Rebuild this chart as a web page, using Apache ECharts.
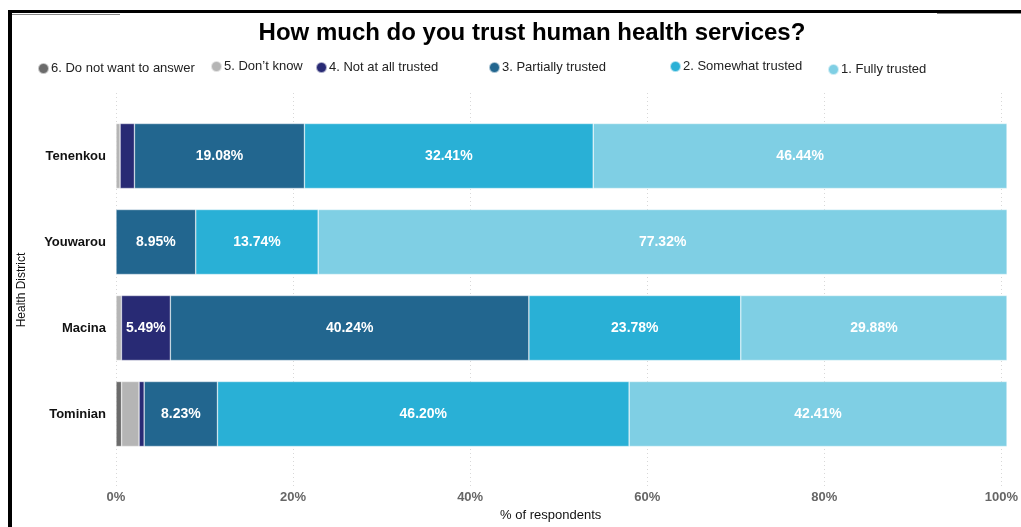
<!DOCTYPE html>
<html>
<head>
<meta charset="utf-8">
<script src="https://cdn.jsdelivr.net/npm/echarts@6/dist/echarts.min.js"></script>
<style>
  html, body { margin: 0; padding: 0; background: #fff; }
  #chart { width: 1021px; height: 527px; }
</style>
</head>
<body>
<div id="chart"></div>
<script>
// Health districts (top to bottom)
const districts = ['Tenenkou', 'Youwarou', 'Macina', 'Tominian'];

// Share of respondents per answer, % (same order as districts)
const noAnswer       = [0.00, 0.00, 0.00, 0.63];
const dontKnow       = [0.46, 0.00, 0.61, 1.96];
const notAtAll       = [1.61, 0.00, 5.49, 0.57];
const partially      = [19.08, 8.95, 40.24, 8.23];
const somewhat       = [32.41, 13.74, 23.78, 46.20];
const fully          = [46.44, 77.32, 29.88, 42.41];

const xTicks = ['0%', '20%', '40%', '60%', '80%', '100%'];

const answers = [
  { name: '6. Do not want to answer', data: noAnswer,  color: '#6b6b6b', legendLeft: 32,  legendTop: 57 },
  { name: '5. Don\u2019t know',       data: dontKnow,  color: '#b5b5b5', legendLeft: 205, legendTop: 55 },
  { name: '4. Not at all trusted',    data: notAtAll,  color: '#282a74', legendLeft: 310, legendTop: 56 },
  { name: '3. Partially trusted',     data: partially, color: '#22668f', legendLeft: 483, legendTop: 56 },
  { name: '2. Somewhat trusted',      data: somewhat,  color: '#29b0d6', legendLeft: 664, legendTop: 55 },
  { name: '1. Fully trusted',         data: fully,     color: '#7fcfe4', legendLeft: 822, legendTop: 58 }
];

const font = '"Liberation Sans", Arial, sans-serif';
const narrow = '"Liberation Sans Narrow", "Liberation Sans", Arial, sans-serif';

const chart = echarts.init(document.getElementById('chart'), null, { renderer: 'canvas' });

const option = {
  backgroundColor: '#ffffff',
  animation: false,
  title: {
    text: 'How much do you trust human health services?',
    left: 527,
    top: 16,
    textAlign: 'center',
    textStyle: { fontFamily: font, fontSize: 24, fontWeight: 'bold', color: '#000' }
  },
  legend: answers.map(a => ({
    data: [a.name],
    left: a.legendLeft,
    top: a.legendTop,
    icon: 'circle',
    itemWidth: 11,
    itemHeight: 11,
    selectedMode: false,
    textStyle: { fontFamily: font, fontSize: 13, color: '#222', padding: [0, 0, 0, -3] }
  })),
  grid: [
    { left: 116, right: 14, top: 113, height: 344 },
    { left: 116, right: 14, top: 93, bottom: 39 }
  ],
  xAxis: [
    {
      gridIndex: 0, type: 'value', min: 0, max: 100, interval: 20,
      axisLine: { show: false }, axisTick: { show: false },
      axisLabel: { show: false }, splitLine: { show: false }
    },
    {
      gridIndex: 1, type: 'value', min: 0, max: 100, interval: 20,
      axisLine: { show: false }, axisTick: { show: false },
      axisLabel: {
        margin: 4,
        formatter: v => xTicks[Math.round(v / 20)],
        fontFamily: narrow, fontSize: 13, fontWeight: 'bold', color: '#666'
      },
      splitLine: { show: true, lineStyle: { type: [1, 3], color: '#d8d8d8', width: 1 } },
      name: '% of respondents',
      nameLocation: 'middle',
      nameGap: 22,
      nameTextStyle: { fontFamily: narrow, fontSize: 13, color: '#111', padding: [0, 16, 0, 0] }
    }
  ],
  yAxis: [
    {
      gridIndex: 0, type: 'category', data: districts, inverse: true,
      axisLine: { show: false }, axisTick: { show: false },
      axisLabel: { margin: 10, fontFamily: font, fontSize: 13, fontWeight: 'bold', color: '#111' }
    },
    {
      gridIndex: 1, type: 'value', min: 0, max: 1,
      axisLine: { show: false }, axisTick: { show: false },
      axisLabel: { show: false }, splitLine: { show: false },
      name: 'Health District',
      nameLocation: 'middle',
      nameRotate: 90,
      nameGap: 88,
      nameTextStyle: { fontFamily: font, fontSize: 12, color: '#111' }
    }
  ],
  series: answers.map(a => ({
    name: a.name,
    type: 'bar',
    stack: 'total',
    xAxisIndex: 0,
    yAxisIndex: 0,
    barWidth: 65,
    data: a.data,
    itemStyle: { color: a.color, borderColor: 'rgba(255,255,255,0.6)', borderWidth: 0.6 },
    label: {
      show: true,
      position: 'inside',
      formatter: p => (p.value >= 5 ? p.value.toFixed(2) + '%' : ''),
      fontFamily: font,
      fontSize: 14,
      fontWeight: 'bold',
      color: '#fff'
    }
  })),
  graphic: [
    // frame lines
    { type: 'rect', shape: { x: 8, y: 10, width: 4, height: 517 }, style: { fill: '#000' }, silent: true },
    { type: 'rect', shape: { x: 8, y: 10, width: 1013, height: 3 }, style: { fill: '#000' }, silent: true },
    { type: 'rect', shape: { x: 12, y: 14, width: 108, height: 1 }, style: { fill: '#888' }, silent: true },
    { type: 'rect', shape: { x: 937, y: 13, width: 84, height: 1 }, style: { fill: '#888' }, silent: true }
  ]
};

chart.setOption(option);
</script>
</body>
</html>
